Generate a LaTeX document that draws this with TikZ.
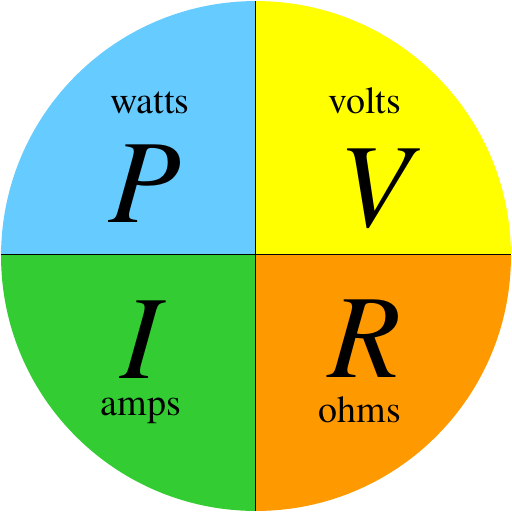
\documentclass[tikz,border=0pt]{standalone}
\usepackage{fontspec}
\setmainfont{texgyretermes}[Extension=.otf, UprightFont=*-regular, ItalicFont=*-italic, BoldFont=*-bold, BoldItalicFont=*-bolditalic]
\usepackage{tikz}
\usetikzlibrary{positioning}
\definecolor{wattBlue}{RGB}{102,204,255}
\definecolor{voltYellow}{RGB}{255,255,0}
\definecolor{ampGreen}{RGB}{51,204,51}
\definecolor{ohmOrange}{RGB}{255,153,0}
\tikzset{
  unitlabel/.style={inner sep=0pt, anchor=base, font=\rmfamily\fontsize{21.6}{26}\selectfont},
  symlabel/.style={inner sep=0pt, anchor=base, font=\rmfamily\fontsize{67.7}{80}\selectfont\itshape}
}

\begin{document}
\begin{tikzpicture}[x=0.02cm,y=-0.02cm]
\useasboundingbox (0,0) rectangle (512,512);
\coordinate (mid) at (256,256);

% quadrants clipped to the disc
\begin{scope}
\clip (mid) circle[radius=5.1cm];
\fill[wattBlue] (0,0) rectangle (255.5,254.5);
\fill[voltYellow] (255.5,0) rectangle (512,254.5);
\fill[ampGreen] (0,254.5) rectangle (255.5,512);
\fill[ohmOrange] (255.5,254.5) rectangle (512,512);
\draw[black, line width=0.8pt] (255.5,0) -- (255.5,512);
\draw[black, line width=0.8pt] (0,254.5) -- (512,254.5);
\end{scope}

% labels
\node[unitlabel] (watts) at (150,113) {watts};
\node[symlabel] (P) at (145,222) {P};
\node[unitlabel] (volts) at (365,113) {volts};
\node[symlabel] (V) at (375,226) {V};
\node[symlabel] (I) at (140,378) {I};
\node[unitlabel] (amps) at (141,415) {amps};
\node[symlabel] (R) at (365,377) {R};
\node[unitlabel] (ohms) at (360,422) {ohms};
\end{tikzpicture}
\end{document}
